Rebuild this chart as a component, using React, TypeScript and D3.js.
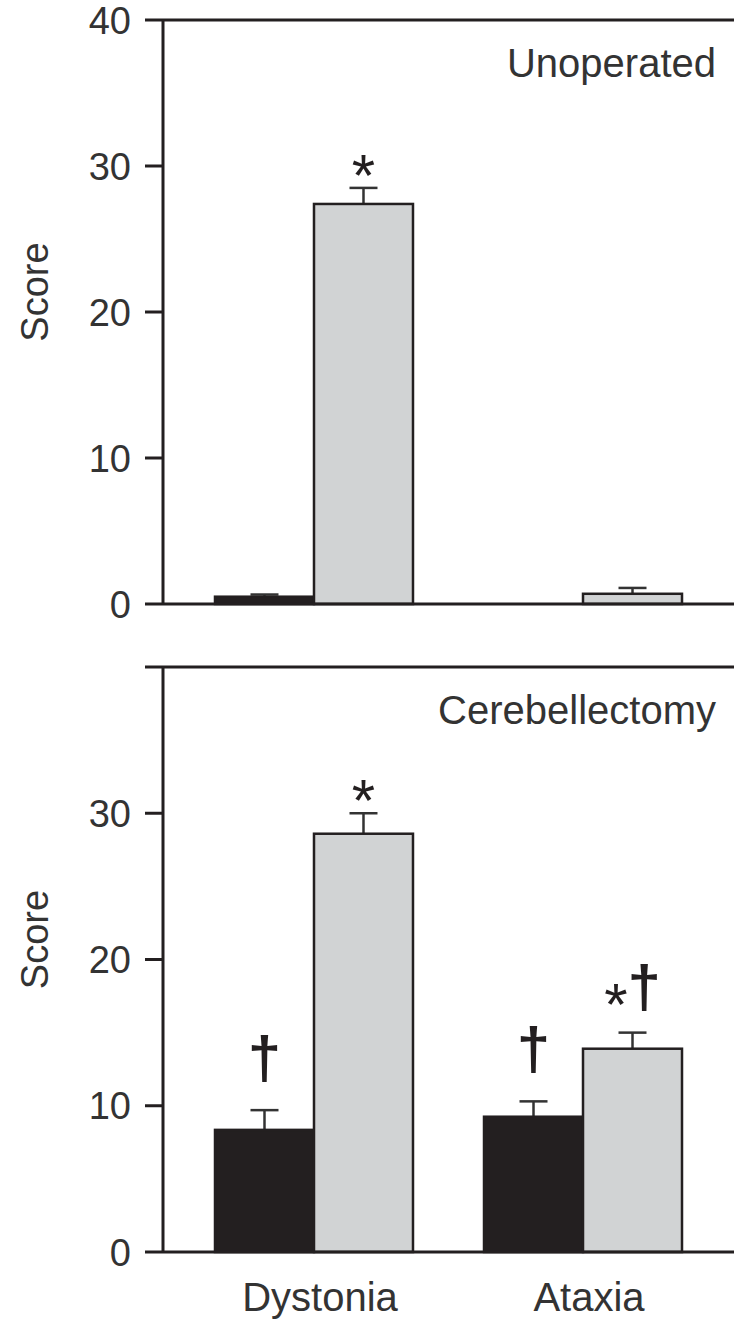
import React from "react";
import { scaleLinear, scaleBand } from "d3";

const groups = ["Dystonia", "Ataxia"];
const series = ["black", "grey"];

// panel 1: unoperated
const unopBlack = [0.5, 0];
const unopBlackSem = [0.15, 0];
const unopGrey = [27.4, 0.7];
const unopGreySem = [1.1, 0.4];

// panel 2: cerebellectomy
const cerebBlack = [8.35, 9.25];
const cerebBlackSem = [1.35, 1.05];
const cerebGrey = [28.6, 13.9];
const cerebGreySem = [1.4, 1.1];

const unopMarks = [{ group: "Dystonia", s: "grey", text: "*" }];
const cerebMarks = [
  { group: "Dystonia", s: "black", text: "†" },
  { group: "Dystonia", s: "grey", text: "*" },
  { group: "Ataxia", s: "black", text: "†" },
  { group: "Ataxia", s: "grey", text: "*†" },
];

const panels = [
  { title: "Unoperated", black: unopBlack, blackSem: unopBlackSem, grey: unopGrey, greySem: unopGreySem, marks: unopMarks, top: 20, bottom: 604, labels: [0, 10, 20, 30, 40] },
  { title: "Cerebellectomy", black: cerebBlack, blackSem: cerebBlackSem, grey: cerebGrey, greySem: cerebGreySem, marks: cerebMarks, top: 667, bottom: 1252, labels: [0, 10, 20, 30] },
];

const W = 734;
const H = 1319;
const axisX = 163;
const ink = "#231f20";
const font = "'Liberation Sans', Arial, sans-serif";

const x0 = scaleBand().domain(groups).range([215, 682]).paddingInner(0.264).paddingOuter(0);
const x1 = scaleBand().domain(series).range([0, x0.bandwidth()]);

const Mark = ({ text, x, e }) => {
  if (text === "*")
    return (
      <text x={x} y={e + 8} textAnchor="middle" fontSize={60} fill={ink} fontFamily={font}>*</text>
    );
  if (text === "†")
    return (
      <text x={x} y={e - 32} textAnchor="middle" fontSize={60} fontWeight="bold" fill={ink} fontFamily={font}>†</text>
    );
  return (
    <text x={x} y={e - 26} textAnchor="middle" fill={ink} fontFamily={font}>
      <tspan fontSize={60} dy={18}>*</tspan>
      <tspan fontSize={60} fontWeight="bold" dy={-18}>†</tspan>
    </text>
  );
};

const Panel = ({ p }) => {
  const y = scaleLinear().domain([0, 40]).range([p.bottom, p.top]);
  const vals = { black: p.black, grey: p.grey };
  const sems = { black: p.blackSem, grey: p.greySem };
  const fills = { black: ink, grey: "#d1d3d4" };

  const bars = [];
  groups.forEach((g, i) => {
    series.forEach((s) => {
      const v = vals[s][i];
      if (v <= 0) return;
      const bx = x0(g) + x1(s);
      const cx = bx + x1.bandwidth() / 2;
      const e = v + sems[s][i];
      bars.push(
        <g key={g + s}>
          <line x1={cx} x2={cx} y1={y(v)} y2={y(e)} stroke="#333" strokeWidth={2.5} />
          <line x1={cx - 14} x2={cx + 14} y1={y(e)} y2={y(e)} stroke="#333" strokeWidth={2.5} />
          <rect x={bx} y={y(v)} width={x1.bandwidth()} height={y(0) - y(v)} fill={fills[s]} stroke={ink} strokeWidth={2.5} />
        </g>
      );
    });
  });

  const marks = p.marks.map((m, k) => {
    const i = groups.indexOf(m.group);
    const e = vals[m.s][i] + sems[m.s][i];
    const cx = x0(m.group) + x1(m.s) + x1.bandwidth() / 2;
    return <Mark key={k} text={m.text} x={cx} e={y(e)} />;
  });

  const mid = (p.top + p.bottom) / 2 - 20;

  return (
    <g>
      <line x1={145} x2={W} y1={y(40)} y2={y(40)} stroke={ink} strokeWidth={3} />
      <line x1={axisX} x2={axisX} y1={y(40)} y2={y(0)} stroke={ink} strokeWidth={3} />
      {[10, 20, 30].map((t) => (
        <line key={t} x1={145} x2={axisX} y1={y(t)} y2={y(t)} stroke={ink} strokeWidth={3} />
      ))}
      {p.labels.map((t) => (
        <text key={t} x={131} y={y(t)} dy="0.36em" textAnchor="end" fontSize={38} fill="#333" fontFamily={font}>
          {t}
        </text>
      ))}
      <text transform={`translate(48,${mid}) rotate(-90)`} textAnchor="middle" fontSize={38} fill="#333" fontFamily={font}>
        Score
      </text>
      <text x={716} y={p.top + 57} textAnchor="end" fontSize={40} fill="#333" fontFamily={font}>
        {p.title}
      </text>
      {bars}
      <line x1={145} x2={W} y1={y(0)} y2={y(0)} stroke={ink} strokeWidth={3} />
      {marks}
    </g>
  );
};

export default function App() {
  return (
    <div style={{ position: "absolute", left: 0, top: 0 }}>
      <svg width={W} height={H} style={{ display: "block", background: "#fff" }}>
        {panels.map((p) => (
          <Panel key={p.title} p={p} />
        ))}
        {groups.map((g) => (
          <text key={g} x={x0(g) + x0.bandwidth() / 2 + 6} y={1311} textAnchor="middle" fontSize={40} fill="#333" fontFamily={font}>
            {g}
          </text>
        ))}
      </svg>
    </div>
  );
}
